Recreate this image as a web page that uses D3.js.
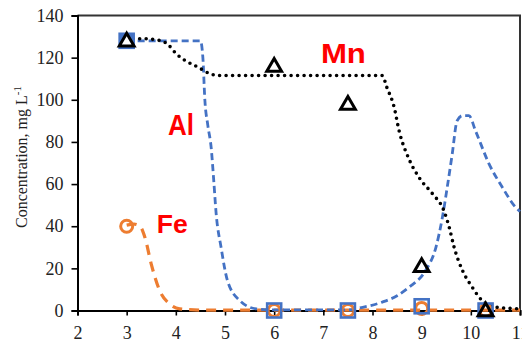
<!DOCTYPE html>
<html>
<head>
<meta charset="utf-8">
<script src="https://cdn.jsdelivr.net/npm/d3@7"></script>
<style>
  html, body { margin: 0; padding: 0; background: #fff; overflow: hidden; }
  svg { display: block; }
</style>
</head>
<body>
<svg id="chart" width="522" height="344"></svg>
<script>
// Measured concentrations at each pH
const phMeasured = [3, 6, 7.5, 9, 10.3];
const mnMeasured = [128, 116, 98, 21, 0];
const alMeasured = [128, 0, 0, 2, 0];
const feMeasured = [40, 0, 0, 1, 0];

// Modelled concentration curves
const mnCurvePh = [3, 3.3, 3.7, 3.85, 4.0, 4.2, 4.45, 4.7, 4.9, 5.5, 8.2, 8.29, 8.44, 8.54, 8.74, 8.95, 9.22, 9.45, 9.56, 9.66, 9.83, 10.03, 10.23, 10.5, 11];
const mnCurveVal = [129, 129, 128, 126, 122, 118.5, 115.5, 112.3, 111.5, 111.5, 111.5, 106, 96.5, 85.4, 72, 63, 55.4, 47.5, 39.5, 30, 19, 11, 4.7, 1.6, 0.8];

const alCurvePh = [3, 4.5, 4.55, 4.59, 4.65, 4.72, 4.77, 4.82, 4.92, 5.05, 5.3, 5.63, 6, 7.5, 7.8, 8.2, 8.5, 8.74, 9.08, 9.29, 9.42, 9.52, 9.62, 9.72, 9.83, 9.96, 10.1, 10.37, 10.64, 10.91, 11];
const alCurveVal = [128, 128, 120, 100, 88, 77, 62, 46, 30, 14.2, 4.7, 0.8, 0.3, 0.3, 1.5, 4, 7, 11, 19, 30, 44, 58.5, 74, 90, 92.5, 92.5, 85, 69.6, 58.5, 49, 47];

const feCurvePh = [3, 3.15, 3.27, 3.37, 3.5, 3.67, 3.88, 4.08, 4.5, 11];
const feCurveVal = [40.5, 41, 40, 34.8, 22, 9.5, 3, 0.8, 0.2, 0.2];

// Axis ticks
const xTicks = [2, 3, 4, 5, 6, 7, 8, 9, 10, 11];
const yTicks = [0, 20, 40, 60, 80, 100, 120, 140];

// Element labels
const elementLabels = ["Mn", "Al", "Fe"];
const labelPh = [6.95, 3.84, 3.61];
const labelVal = [117.5, 83.3, 36.6];

const BLUE = "#4472C4", ORANGE = "#ED7D31", RED = "#FF0000";
const labelStyle = {
  Mn: { size: 27, width: 45 },
  Al: { size: 29, width: 26 },
  Fe: { size: 26, width: 31 }
};

const svg = d3.select("#chart");
const x = d3.scaleLinear().domain([2, 11]).range([77.5, 520]);
const y = d3.scaleLinear().domain([0, 140]).range([310.5, 15.5]);

// Plot frame (top and right)
svg.append("path")
  .attr("d", `M${x(2)},${y(140)}H${x(11)}V${y(0)}`)
  .attr("fill", "none").attr("stroke", "#333").attr("stroke-width", 2);

// Axes
const yAxis = svg.append("g").attr("transform", `translate(${x(2)},0)`)
  .call(d3.axisLeft(y).tickValues(yTicks).tickSize(6).tickPadding(8).tickFormat(d3.format("d")));
const xAxis = svg.append("g").attr("transform", `translate(0,${y(0)})`)
  .call(d3.axisBottom(x).tickValues(xTicks).tickSize(5).tickPadding(13).tickFormat(d3.format("d")));
[xAxis, yAxis].forEach(g => {
  g.select(".domain").attr("stroke", "#000").attr("stroke-width", 2);
  g.selectAll(".tick line").attr("stroke", "#000").attr("stroke-width", 1.6);
  g.selectAll("text").attr("font-family", "Liberation Serif, Times New Roman, serif")
    .attr("font-size", 18).attr("fill", "#222");
});
xAxis.selectAll("text").attr("dy", "0.6em");

// Y axis title
const yTitle = svg.append("text")
  .attr("transform", `translate(27,157) rotate(-90)`)
  .attr("text-anchor", "middle")
  .attr("font-family", "Liberation Serif, Times New Roman, serif")
  .attr("font-size", 16).attr("fill", "#222");
yTitle.append("tspan").text("Concentration, mg L");
yTitle.append("tspan").attr("dy", -6).attr("font-size", 11).text("-1");

// Curves
const line = d3.line().x(d => x(d[0])).y(d => y(d[1])).curve(d3.curveMonotoneX);
const zip = (a, b) => a.map((v, i) => [v, b[i]]);

svg.append("path").datum(zip(feCurvePh, feCurveVal))
  .attr("d", line).attr("fill", "none")
  .attr("stroke", ORANGE).attr("stroke-width", 3.2).attr("stroke-dasharray", "10,7");

svg.append("path").datum(zip(alCurvePh, alCurveVal))
  .attr("d", line).attr("fill", "none")
  .attr("stroke", BLUE).attr("stroke-width", 2.8).attr("stroke-dasharray", "7,4");

svg.append("path").datum(zip(mnCurvePh, mnCurveVal))
  .attr("d", line).attr("fill", "none")
  .attr("stroke", "#000").attr("stroke-width", 3.6)
  .attr("stroke-linecap", "round").attr("stroke-dasharray", "0,6.5");

// Measured points
const feData = zip(phMeasured, feMeasured);
const alData = zip(phMeasured, alMeasured);
const mnData = zip(phMeasured, mnMeasured);

svg.append("g").selectAll("circle").data(feData).join("circle")
  .attr("cx", d => x(d[0])).attr("cy", d => y(d[1])).attr("r", 6)
  .attr("fill", "none").attr("stroke", ORANGE).attr("stroke-width", 3);

svg.append("g").selectAll("rect").data(alData).join("rect")
  .attr("x", d => x(d[0]) - 7).attr("y", d => y(d[1]) - 7)
  .attr("width", 14).attr("height", 14)
  .attr("fill", (d, i) => i === 0 ? BLUE : "none")
  .attr("stroke", BLUE).attr("stroke-width", 2.6);

const tri = d3.symbol().type(d3.symbolTriangle).size(95);
svg.append("g").selectAll("path").data(mnData).join("path")
  .attr("d", tri)
  .attr("transform", d => `translate(${x(d[0])},${y(d[1]) + 1})`)
  .attr("fill", (d, i) => i === 0 ? "#fff" : "none")
  .attr("stroke", "#000").attr("stroke-width", 3).attr("stroke-linejoin", "miter");

// Element labels
svg.append("g").selectAll("text").data(elementLabels).join("text")
  .attr("x", (d, i) => x(labelPh[i])).attr("y", (d, i) => y(labelVal[i]))
  .attr("font-family", "Liberation Sans, Arial, sans-serif")
  .attr("font-weight", "bold")
  .attr("font-size", d => labelStyle[d].size)
  .attr("textLength", d => labelStyle[d].width)
  .attr("lengthAdjust", "spacingAndGlyphs")
  .attr("fill", RED).text(d => d);
</script>
</body>
</html>
